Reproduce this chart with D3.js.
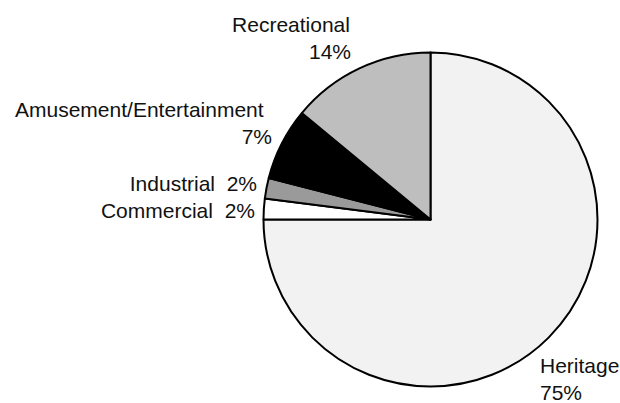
<!DOCTYPE html>
<html>
<head>
<meta charset="utf-8">
<script src="https://cdn.jsdelivr.net/npm/d3@7"></script>
<style>
  html, body { margin: 0; padding: 0; background: #fff; }
  svg text { font-family: "Liberation Sans", Arial, sans-serif; font-size: 21px; fill: #111; white-space: pre; }
</style>
</head>
<body>
<svg id="chart" width="620" height="403"></svg>
<script>
// Share of sites by category (percent), clockwise from 12 o'clock
const categories = ["Heritage", "Commercial", "Industrial", "Amusement/Entertainment", "Recreational"];
const shares = [75, 2, 2, 7, 14];
const fills = ["#f2f2f2", "#ffffff", "#9a9a9a", "#000000", "#bebebe"];

// Label text lines per slice
const labelText = [
  ["Heritage", "75%"],
  ["Commercial  2%"],
  ["Industrial  2%"],
  ["Amusement/Entertainment", "7%"],
  ["Recreational", "14%"]
];

// Label placement: anchor(s), x(s), first baseline
const labelPos = [
  ["start", 540, 373],
  ["end", 255, 218],
  ["end", 257, 191],
  [["start", "end"], [15, 272], 117],
  [["middle", "end"], [291, 351], 32]
];

const svg = d3.select("#chart");
const cx = 430.5, cy = 219.5, r = 167;

const pie = d3.pie().sort(null).value(d => d)(shares);
const arc = d3.arc().innerRadius(0).outerRadius(r);

const g = svg.append("g").attr("transform", `translate(${cx},${cy})`);
g.selectAll("path")
  .data(pie)
  .join("path")
  .attr("d", arc)
  .attr("fill", (d, i) => fills[i])
  .attr("stroke", "#000")
  .attr("stroke-width", 2)
  .attr("stroke-linejoin", "round");

const lineGap = 27;
labelText.forEach((lines, i) => {
  const [anchor, x, y0] = labelPos[i];
  lines.forEach((t, j) => {
    svg.append("text")
      .attr("x", Array.isArray(x) ? x[j] : x)
      .attr("y", y0 + j * lineGap)
      .attr("text-anchor", Array.isArray(anchor) ? anchor[j] : anchor)
      .text(t);
  });
});
</script>
</body>
</html>
